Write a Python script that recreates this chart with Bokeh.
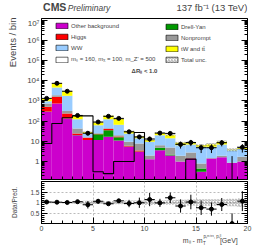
import math
from bokeh.plotting import figure
from bokeh.layouts import column, row
from bokeh.models import (Label, Legend, LegendItem, FixedTicker, LogAxis, LinearAxis,
                          Range1d, ColumnDataSource, CustomJSTickFormatter)
from bokeh.embed import file_html
from bokeh.resources import INLINE

FONT = "Liberation Sans"

# ---------------- data ----------------
bin_low = list(range(0, 20))
bin_high = list(range(1, 21))
x_ticks = [0, 5, 10, 15, 20]
y_ticks = [1, 10, 100, 1000, 10000, 100000, 1000000, 10000000]
y_tick_labels = ["1", "10", "10²", "10³", "10⁴", "10⁵", "10⁶", "10⁷"]
ratio_ticks = [0.5, 1.0, 1.5]
ratio_tick_labels = ["0.5", "1", "1.5"]

other_bkg = [290, 740, 135, 20, 11.4, 11.4, 16.7, 11, 5.3, 3.0, 1.3, 3.6, 2.0, 1.0, 1.4, 0.31, 1.4, 1.6, 0.85, 1.0]
drell_yan = [10, 10, 2, 0.5, 0.2, 10.6, 18.3, 5, 0.2, 0.1, 0.0, 1.2, 0.2, 0.0, 0.0, 0.14, 0.0, 0.0, 0.0, 0.0]
higgs = [210, 850, 103, 3.5, 3.4, 1.0, 5.0, 1.0, 0.5, 0.4, 0.0, 0.0, 0.0, 0.0, 0.05, 0.0, 0.0, 0.0, 0.0, 0.0]
nonprompt = [240, 300, 80, 19, 1.0, 2.0, 4.0, 3.0, 3.4, 4.3, 0.7, 1.6, 2.7, 0.9, 1.35, 0.35, 0.1, 0.3, 0.05, 0.7]
ww = [220, 2700, 1480, 81, 8.0, 38, 80, 46, 15, 6.2, 7.4, 13.6, 9.1, 4.5, 4.2, 4.5, 3.8, 5.1, 2.7, 2.4]
ttw = [330, 2700, 1200, 59, 4.0, 22, 59, 60, 6.6, 2.7, 2.0, 6.0, 6.0, 2.0, 1.5, 1.1, 1.7, 2.4, 0.2, 0.6]
signal = [7.8, 76, 145, 180, 180, 0.31, 0.25, 1.0, 1.0, 27, 0, 0, 0, 0, 1.3, 0, 0, 0, 0, 0]
data = [1330, 7400, 3000, 190, 25, 90, 172, 136, 29.5, 16.5, 13, 25.5, 24.5, 7, 8.7, 4.8, 4.8, 8.5, 0, 5]
tot_unc_rel = [0.04, 0.04, 0.05, 0.06, 0.08, 0.07, 0.07, 0.08, 0.09, 0.10, 0.12, 0.10, 0.11, 0.13, 0.14, 0.15, 0.16, 0.15, 0.18, 0.20]

processes = [
    ("Other background", other_bkg, "#cc00cc"),
    ("Drell-Yan", drell_yan, "#009900"),
    ("Higgs", higgs, "#ff0000"),
    ("Nonprompt", nonprompt, "#999999"),
    ("WW", ww, "#99ccff"),
    ("tW and tt\u0304", ttw, "#ffff00"),
]
signal_label = "mₛ = 160, mᵪ = 100, m_Z' = 500"

FLOOR = 1e-3
n = len(bin_low)
centers = [(a + b) / 2 for a, b in zip(bin_low, bin_high)]
blank = CustomJSTickFormatter(code="return ''")

LEFTW = 24   # left strip with y titles
COLW = 234   # width of the right-hand column
LB = 16      # left border inside the column figures
RB = 11
TOTAL_H = 250


def bare(width, height, xr, yr):
    f = figure(width=width, height=height, x_range=xr, y_range=yr, output_backend="svg",
               toolbar_location=None, x_axis_location=None, y_axis_location=None,
               min_border_left=0, min_border_right=0, min_border_top=0, min_border_bottom=0)
    f.outline_line_color = None
    f.grid.visible = False
    return f


# ---------------- left strip (y-axis titles) ----------------
left = bare(LEFTW, TOTAL_H, Range1d(0, LEFTW), Range1d(0, TOTAL_H))
left.add_layout(Label(x=12, y=233, text="Events / bin", text_font=FONT, text_font_size="9.5px",
                      angle=math.pi / 2, text_align="right", text_baseline="middle"))
left.add_layout(Label(x=14, y=48, text="Data/Pred.", text_font=FONT, text_font_size="6.5px",
                      angle=math.pi / 2, text_align="center", text_baseline="middle"))

# ---------------- header (CMS / lumi) ----------------
h = figure(width=COLW, height=18, x_range=Range1d(0, 20), y_range=Range1d(0, 18),
           output_backend="svg", toolbar_location=None, x_axis_location=None, y_axis_location=None,
           min_border_left=LB, min_border_right=RB, min_border_top=0, min_border_bottom=0)
h.outline_line_color = None
h.grid.visible = False
h.add_layout(Label(x=0.15, y=6, text="CMS", text_font=FONT, text_font_style="bold",
                   text_font_size="10.5px"))
h.add_layout(Label(x=2.55, y=6, text="Preliminary", text_font=FONT, text_font_style="italic",
                   text_font_size="8.5px", text_align="left"))
h.add_layout(Label(x=20, y=6, text="137 fb⁻¹ (13 TeV)", text_font=FONT,
                   text_font_size="9.5px", text_align="right"))

# ---------------- main figure ----------------
p = figure(width=COLW, height=162, x_range=h.x_range, y_range=Range1d(0.128, 1.2e7),
           y_axis_type="log", output_backend="svg", toolbar_location=None,
           min_border_left=LB, min_border_right=RB, min_border_top=0, min_border_bottom=1)
p.outline_line_color = "black"
p.grid.visible = False

cum = [0.0] * n
for name, vals, col in processes:
    bottoms = [max(c, FLOOR) for c in cum]
    tops = [max(c + v, FLOOR) for c, v in zip(cum, vals)]
    src = ColumnDataSource(dict(left=bin_low, right=bin_high, bottom=bottoms, top=tops))
    p.quad(left="left", right="right", bottom="bottom", top="top", source=src,
           fill_color=col, line_color=None)
    cum = [c + v for c, v in zip(cum, vals)]
total = cum

unc_src = ColumnDataSource(dict(left=bin_low, right=bin_high,
                                bottom=[t * (1 - u) for t, u in zip(total, tot_unc_rel)],
                                top=[t * (1 + u) for t, u in zip(total, tot_unc_rel)]))
p.quad(left="left", right="right", bottom="bottom", top="top", source=unc_src,
       fill_alpha=0, line_color=None, hatch_pattern="right_diagonal_line",
       hatch_color="#555555", hatch_scale=3, hatch_weight=0.5)

sx = bin_low + [bin_high[-1]]
sy = [max(v, FLOOR) for v in signal] + [max(signal[-1], FLOOR)]
p.step(x=sx, y=sy, mode="after", line_color="black", line_width=1.1)

data_err_lo = [math.sqrt(d) for d in data]
data_err_hi = [math.sqrt(d) if d > 0 else 1.84 for d in data]
p.segment(x0=centers, x1=centers, y0=[max(d - e, FLOOR) for d, e in zip(data, data_err_lo)],
          y1=[d + e for d, e in zip(data, data_err_hi)], line_color="black", line_width=1)
nz = [i for i in range(n) if data[i] > 0]
p.segment(x0=[bin_low[i] for i in nz], x1=[bin_high[i] for i in nz], y0=[data[i] for i in nz],
          y1=[data[i] for i in nz], line_color="black", line_width=1)
p.scatter(x=[centers[i] for i in nz], y=[data[i] for i in nz], size=4, color="black")


def style_axis(ax, label_size=None, standoff=0):
    ax.axis_line_color = "black"
    ax.major_tick_in = 6
    ax.major_tick_out = 0
    ax.minor_tick_in = 3
    ax.minor_tick_out = 0
    ax.major_tick_line_color = "black"
    ax.minor_tick_line_color = "black"
    ax.major_label_standoff = standoff
    ax.major_label_text_font = FONT
    if label_size is None:
        ax.formatter = blank
        ax.major_label_text_font_size = "1px"
    else:
        ax.major_label_text_font_size = label_size


log_minor = [m * 10 ** k for k in range(-1, 8) for m in range(2, 10)]
p.yaxis.ticker = FixedTicker(ticks=y_ticks, minor_ticks=log_minor)
style_axis(p.yaxis[0], "8px", 2)
p.yaxis.major_label_overrides = {t: l for t, l in zip(y_ticks, y_tick_labels)}
p.xaxis.ticker = FixedTicker(ticks=x_ticks, minor_ticks=list(range(0, 21)))
style_axis(p.xaxis[0])
ra = LogAxis(ticker=FixedTicker(ticks=y_ticks, minor_ticks=log_minor))
style_axis(ra)
p.add_layout(ra, "right")


def swatch(fill, hatch=None):
    kw = dict(left=[0], right=[0], bottom=[1e-6], top=[1e-6], fill_color=fill,
              line_color="black", line_width=0.6)
    if hatch:
        kw.update(fill_alpha=0, hatch_pattern=hatch, hatch_color="#555555", hatch_scale=3, hatch_weight=0.5)
    return p.quad(**kw)


cols = {name: col for name, _, col in processes}
left_items = [("Other background", swatch(cols["Other background"])),
              ("Higgs", swatch(cols["Higgs"])),
              ("WW", swatch(cols["WW"])),
              (signal_label, swatch("white"))]
right_items = [("Drell-Yan", swatch(cols["Drell-Yan"])),
               ("Nonprompt", swatch(cols["Nonprompt"])),
               ("tW and tt\u0304", swatch(cols["tW and tt\u0304"])),
               ("Total unc.", swatch("white", "right_diagonal_line"))]


def make_legend(items, loc):
    lg = Legend(items=[LegendItem(label=l, renderers=[r]) for l, r in items], location=loc)
    lg.border_line_color = None
    lg.background_fill_alpha = 0
    lg.glyph_width = 15
    lg.glyph_height = 7
    lg.label_height = 7
    lg.label_text_font_size = "6px"
    lg.label_text_font = FONT
    lg.label_standoff = 2
    lg.spacing = 4
    lg.padding = 0
    lg.margin = 0
    return lg


p.add_layout(make_legend(left_items, (13, 116)))
p.add_layout(make_legend(right_items, (123, 116)))

p.add_layout(Label(x=10, y=2.9e4, text="ΔRₗₗ < 1.0",
                   text_font=FONT, text_font_style="bold", text_font_size="6px",
                   text_align="center", text_baseline="middle"))

# ---------------- ratio figure ----------------
r = figure(width=COLW, height=53, x_range=h.x_range, y_range=Range1d(0, 2),
           output_backend="svg", toolbar_location=None,
           min_border_left=LB, min_border_right=RB, min_border_top=1, min_border_bottom=10)
r.outline_line_color = "black"
r.xgrid.ticker = FixedTicker(ticks=[5, 10, 15])
r.ygrid.ticker = FixedTicker(ticks=ratio_ticks)
r.grid.grid_line_color = "#aaaaaa"
r.grid.grid_line_dash = "2 2"
r.grid.grid_line_width = 0.8

r.quad(left=bin_low, right=bin_high, bottom=[1 - u for u in tot_unc_rel], top=[1 + u for u in tot_unc_rel],
       fill_alpha=0, line_color=None, hatch_pattern="right_diagonal_line",
       hatch_color="#555555", hatch_scale=3, hatch_weight=0.5)
ratio = [d / t for d, t in zip(data, total)]
r_lo = [e / t for e, t in zip(data_err_lo, total)]
r_hi = [e / t for e, t in zip(data_err_hi, total)]
r.segment(x0=centers, x1=centers, y0=[v - e for v, e in zip(ratio, r_lo)],
          y1=[v + e for v, e in zip(ratio, r_hi)], line_color="black", line_width=1)
r.segment(x0=bin_low, x1=bin_high, y0=ratio, y1=ratio, line_color="black", line_width=1)
r.scatter(x=centers, y=ratio, size=4, color="black")

r.xaxis.ticker = FixedTicker(ticks=x_ticks, minor_ticks=list(range(0, 21)))
style_axis(r.xaxis[0], "7px", 2)
r.yaxis.ticker = FixedTicker(ticks=ratio_ticks, minor_ticks=[i / 10 for i in range(0, 21)])
style_axis(r.yaxis[0], "6.5px", 2)
r.yaxis.major_label_overrides = {t: l for t, l in zip(ratio_ticks, ratio_tick_labels)}
rr = LinearAxis(ticker=FixedTicker(ticks=ratio_ticks, minor_ticks=[i / 10 for i in range(0, 21)]))
style_axis(rr)
r.add_layout(rr, "right")

# ---------------- footer (x-axis title) ----------------
f = bare(COLW, 17, Range1d(0, COLW), Range1d(0, 17))
f.add_layout(Label(x=223, y=7, text="[GeV]", text_font=FONT, text_font_size="7px", text_align="right"))
f.add_layout(Label(x=204, y=12, text="pₜᵐⁱˢˢ, pₜˡˡ", text_font=FONT, text_font_size="4.5px",
                   text_align="right"))
f.add_layout(Label(x=183, y=7, text="mₗₗ - m", text_font=FONT, text_font_size="7px", text_align="right"))
f.add_layout(Label(x=183.5, y=5, text="T", text_font=FONT, text_font_size="4.5px"))

layout = row(left, column(h, p, r, f, spacing=0), spacing=0)
open("out.html", "w").write(file_html(layout, INLINE))
